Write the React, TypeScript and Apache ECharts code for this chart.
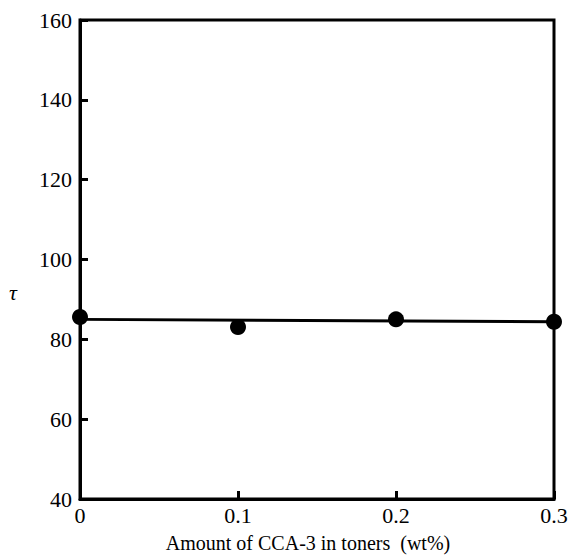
import React, { useEffect, useRef } from "react";
import * as echarts from "echarts";

const amounts = [0, 0.1, 0.2, 0.3];
const tauValues = [85.6, 83.1, 85.0, 84.4];
const fitX = [0, 0.3];
const fitY = [85.0, 84.4];
const yTicks = [40, 60, 80, 100, 120, 140, 160];

const FONT = "Liberation Serif";

export default function App() {
  const ref = useRef<HTMLDivElement>(null);
  useEffect(() => {
    if (!ref.current) return;
    const chart = echarts.init(ref.current, null, { renderer: "svg" });
    chart.setOption({
      animation: false,
      backgroundColor: "#fff",
      textStyle: { fontFamily: FONT },
      grid: {
        left: 80,
        right: 15,
        top: 20,
        bottom: 58,
        containLabel: false,
        outerBoundsMode: "none",
        show: true,
        borderColor: "#000",
        borderWidth: 3,
        backgroundColor: "transparent",
      },
      graphic: [
        { type: "text", left: 9, top: 281, style: { text: "τ", fontFamily: FONT, fontSize: 22, fontStyle: "italic", fill: "#000" } },
      ],
      xAxis: {
        type: "value",
        min: 0,
        max: 0.3,
        interval: 0.1,
        name: "Amount of CCA-3 in toners  (wt%)",
        nameLocation: "middle",
        nameGap: 34,
        nameTextStyle: { fontFamily: FONT, fontSize: 20, color: "#000", padding: [0, 18, 0, 0] },
        axisLine: { show: true, lineStyle: { color: "#000", width: 3 } },
        axisTick: { show: true, inside: true, length: 8, lineStyle: { color: "#000", width: 3 } },
        axisLabel: {
          fontFamily: FONT,
          fontSize: 22,
          color: "#000",
          margin: 5,
          hideOverlap: false,
          formatter: (v: number) => (Math.round(v * 10) / 10).toString(),
        },
        splitLine: { show: false },
      },
      yAxis: {
        type: "value",
        min: yTicks[0],
        max: yTicks[yTicks.length - 1],
        interval: 20,
        axisLine: { show: true, lineStyle: { color: "#000", width: 3 } },
        axisTick: { show: true, inside: true, length: 8, lineStyle: { color: "#000", width: 3 } },
        axisLabel: { fontFamily: FONT, fontSize: 22, color: "#000", margin: 8 },
        splitLine: { show: false },
      },
      series: [
        {
          type: "line",
          data: fitX.map((x, i) => [x, fitY[i]]),
          showSymbol: false,
          symbol: "none",
          lineStyle: { color: "#000", width: 3 },
          z: 2,
        },
        {
          type: "scatter",
          data: amounts.map((x, i) => [x, tauValues[i]]),
          symbol: "circle",
          symbolSize: 16,
          itemStyle: { color: "#000", opacity: 1 },
          z: 3,
        },
      ],
    });
    return () => chart.dispose();
  }, []);
  return <div ref={ref} style={{ width: 569, height: 557, position: "absolute", left: 0, top: 0 }} />;
}
